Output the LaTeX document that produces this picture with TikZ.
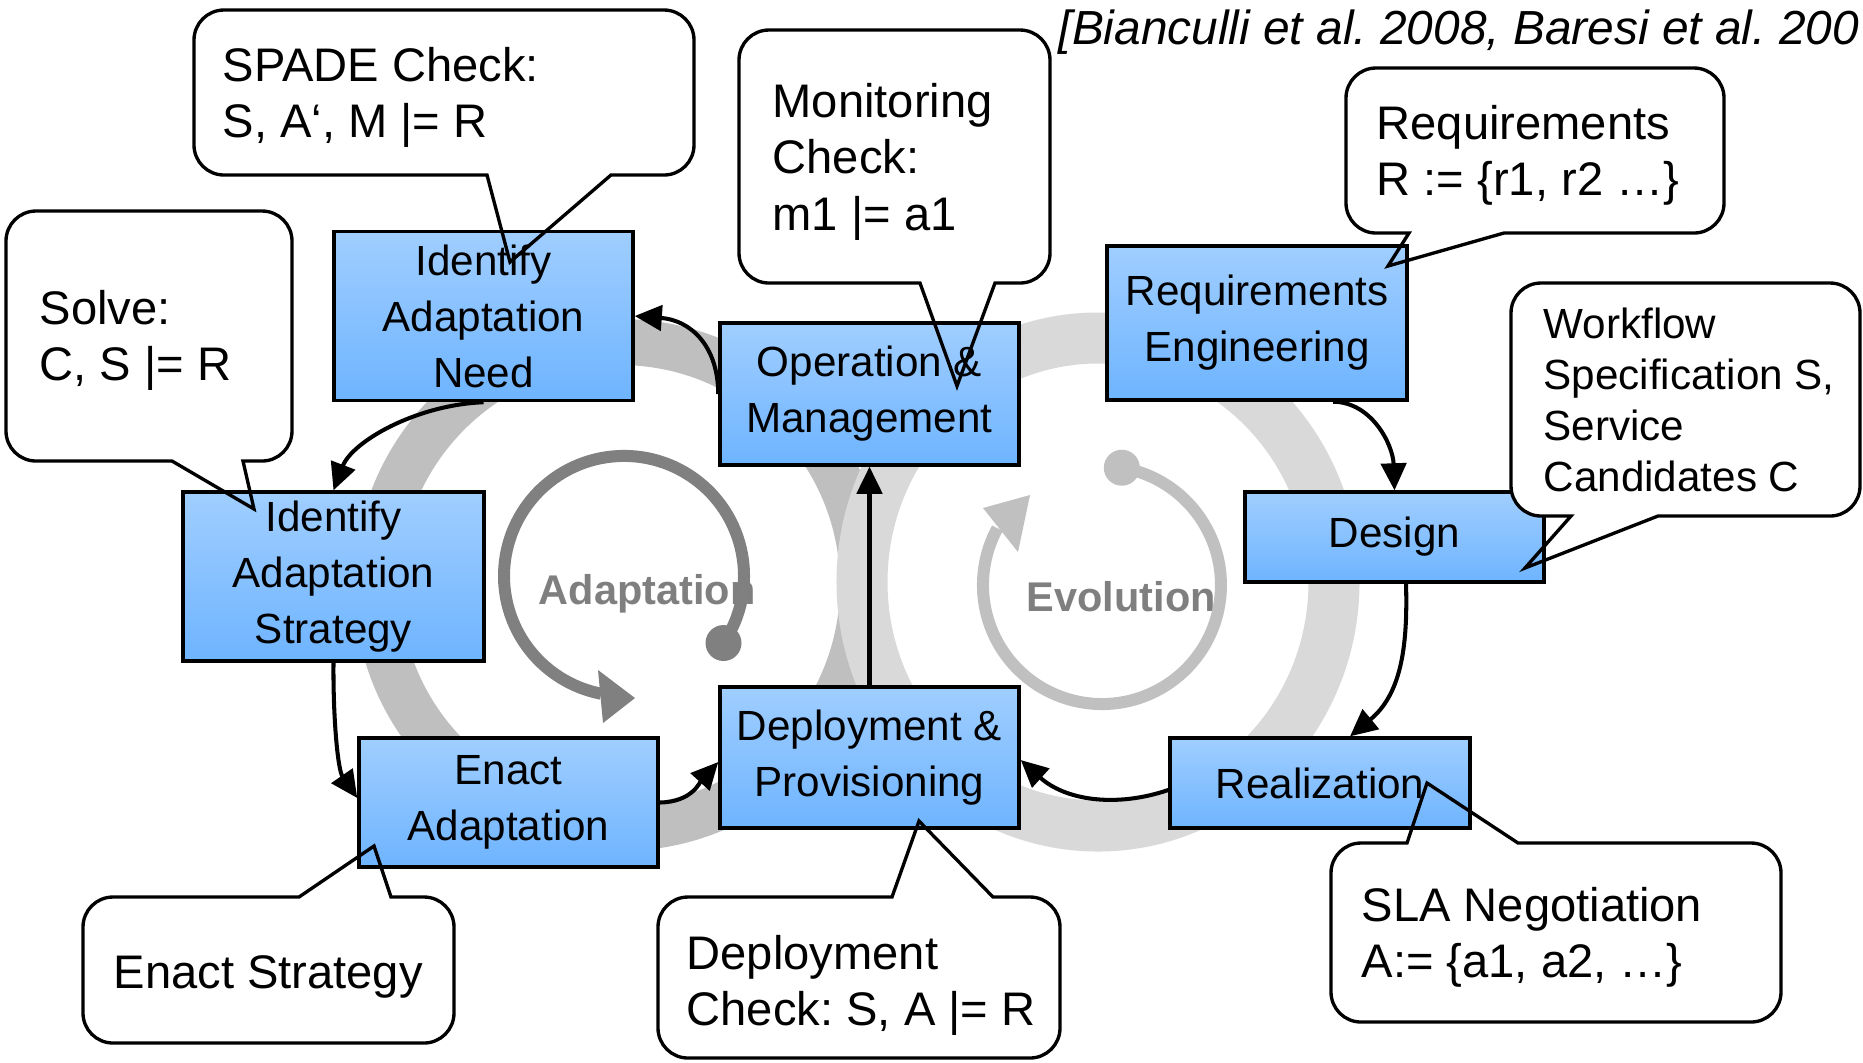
\documentclass[tikz,border=0pt]{standalone}
\usepackage{fontspec}
\setmainfont{Liberation Sans}
\usetikzlibrary{arrows.meta}
\definecolor{boxtop}{RGB}{160,206,255}
\definecolor{boxbot}{RGB}{110,180,255}
\definecolor{ringA}{RGB}{191,191,191}
\definecolor{ringE}{RGB}{217,217,217}
\definecolor{arrA}{RGB}{128,128,128}
\definecolor{arrE}{RGB}{192,192,192}
\definecolor{lbl}{RGB}{127,127,127}
\frenchspacing
\newcommand\mlines[2]{\vtop{\baselineskip=#1\relax\lineskiplimit=-100pt\halign{##\hfil\cr#2\crcr}}}
\newcommand\mybubble[6]{%
  \fill[white,rounded corners=0.3cm] (#1,#2) rectangle (#3,#4);
  \draw[bubbleline] (#1+30,#2) #5 -- (#3-30,#2) arc[start angle=-90,end angle=0,radius=30]
    -- (#3,#4-30) arc[start angle=0,end angle=90,radius=30] #6 -- (#1+30,#4)
    arc[start angle=90,end angle=180,radius=30] -- (#1,#2+30)
    arc[start angle=180,end angle=270,radius=30] -- cycle;}
\begin{document}
\begin{tikzpicture}[x=0.01cm,y=-0.01cm,
  proc/.style={draw=black,line width=0.94pt,top color=boxtop,bottom color=boxbot,align=center,inner sep=0pt,font=\fontsize{12}{15.94}\selectfont},
  conn/.style={line width=1.15pt,-{Triangle[length=7.7pt,width=7.2pt]}},
  bubbleline/.style={draw=black,line width=0.95pt,line join=miter},
  bubtext/.style={anchor=base west,inner sep=0pt,font=\fontsize{13.4}{16.2}\selectfont},
  lbllabel/.style={anchor=base west,inner sep=0pt,text=lbl,font=\bfseries\fontsize{11.8}{14}\selectfont}]
\fill[white] (0,0) rectangle (1863,1062);
\useasboundingbox (0,0) rectangle (1863,1062);
% background rings
\draw[ringA,line width=0.46cm] (620,585) circle [radius=243];
\draw[ringE,line width=0.51cm] (1098,582) ellipse [x radius=236,y radius=244];
% cycle labels
\node[lbllabel] (adlbl) at (538,604) {Adaptation};
\node[lbllabel] (evlbl) at (1026,611) {Evolution};
% adaptation circular arrow
\coordinate (adot) at (723.5,643);
\fill[arrA] (adot) circle [radius=18];
\draw[arrA,line width=0.12cm] (adot) arc[start angle=34,end angle=-259,radius=120];
\fill[arrA] (635,698) -- (598,670) -- (603,723) -- cycle;
% evolution circular arrow
\coordinate (edot) at (1121.8,467.7);
\fill[arrE] (edot) circle [radius=18];
\draw[arrE,line width=0.12cm] (edot) arc[start angle=-80.4,end angle=208.5,radius=119];
\fill[arrE] (1030,495) -- (983,508) -- (1018,552) -- cycle;
% process boxes
\node[proc,minimum width=2.99cm,minimum height=1.69cm] (ian) at (483.5,316) {Identify\\Adaptation\\Need};
\node[proc,minimum width=3.01cm,minimum height=1.69cm] (ias) at (333.5,576.5) {Identify\\Adaptation\\Strategy};
\node[proc,minimum width=2.99cm,minimum height=1.29cm] (ea) at (508.5,802.5) {Enact\\Adaptation};
\node[proc,minimum width=2.99cm,minimum height=1.41cm] (dp) at (869.5,757.5) {Deployment \&\\Provisioning};
\node[proc,minimum width=2.99cm,minimum height=1.42cm] (om) at (869.5,394) {Operation \&\\Management};
\node[proc,minimum width=3.00cm,minimum height=1.54cm] (re) at (1257,323) {Requirements\\Engineering};
\node[proc,minimum width=2.99cm,minimum height=0.90cm] (des) at (1394.5,537) {Design};
\node[proc,minimum width=3.00cm,minimum height=0.90cm] (real) at (1320,783) {Realization};
% connectors
\draw[conn] (om.west) .. controls (718,345) and (690,320) .. (ian.east);
\draw[conn] (ian.south) .. controls (415,405) and (352,442) .. (ias.north);
\draw[conn] (ias.south) .. controls (333,720) and (338,770) .. ([yshift=0.045cm]ea.west);
\draw[conn] (ea.east) .. controls (692,802) and (700,782) .. ([yshift=-0.045cm]dp.west);
\draw[conn] (dp.north) -- (om.south);
\draw[conn] ([xshift=0.76cm]re.south) .. controls (1372,402) and (1393,445) .. (des.north);
\draw[conn] ([xshift=0.115cm]des.south) .. controls (1408,650) and (1400,695) .. ([xshift=0.3cm]real.north);
\draw[conn] ([yshift=-0.07cm]real.west) .. controls (1115,808) and (1065,800) .. ([yshift=-0.025cm]dp.east);
% callouts
\mybubble{194}{10}{694}{175}{}{-- (611,175) -- (510,262) -- (487,175)}
\node[bubtext] (spade) at (222,81) {\mlines{16.2pt}{SPADE Check:\cr S, A‘, M |= R}};
\mybubble{739}{30}{1050}{283}{}{-- (995,283) -- (957,386) -- (920,283)}
\node[bubtext] (mon) at (772,117) {\mlines{16.2pt}{Monitoring\cr Check:\cr m1 |= a1}};
\mybubble{1346}{68}{1724}{233}{}{-- (1504,233) -- (1388,266) -- (1409,233)}
\node[bubtext] (req) at (1376,139) {\mlines{16.2pt}{Requirements\cr R := \{r1, r2 …\}}};
\mybubble{1511}{283}{1860}{516}{}{-- (1658,516) -- (1525,568) -- (1571,516)}
\node[bubtext,font=\fontsize{12}{14.5}\selectfont] (wf) at (1543,338) {\mlines{14.55pt}{Workflow\cr Specification S,\cr Service\cr Candidates C}};
\mybubble{6}{211}{292}{461}{}{-- (243,461) -- (254,509) -- (172,461)}
\node[bubtext] (solve) at (39,324) {\mlines{16.2pt}{Solve:\cr C, S |= R}};
\mybubble{83}{897}{454}{1043}{-- (299,897) -- (374,846) -- (391,897)}{}
\node[bubtext] (enact) at (113,988) {Enact Strategy};
\mybubble{658}{897}{1060}{1058}{-- (892,897) -- (919,821) -- (993,897)}{}
\node[bubtext] (dcheck) at (686,969) {\mlines{16.2pt}{Deployment\cr Check: S, A |= R}};
\mybubble{1331}{843}{1781}{1022}{-- (1407,843) -- (1427,783) -- (1518,843)}{}
\node[bubtext] (sla) at (1361,921) {\mlines{16.2pt}{SLA Negotiation\cr A:= \{a1, a2, …\}}};
% citation
\node[anchor=base west,inner sep=0pt,font=\itshape\fontsize{13.6}{16}\selectfont] (cite) at (1058,44) {[Bianculli et al. 2008, Baresi et al. 200};
\end{tikzpicture}
\end{document}
